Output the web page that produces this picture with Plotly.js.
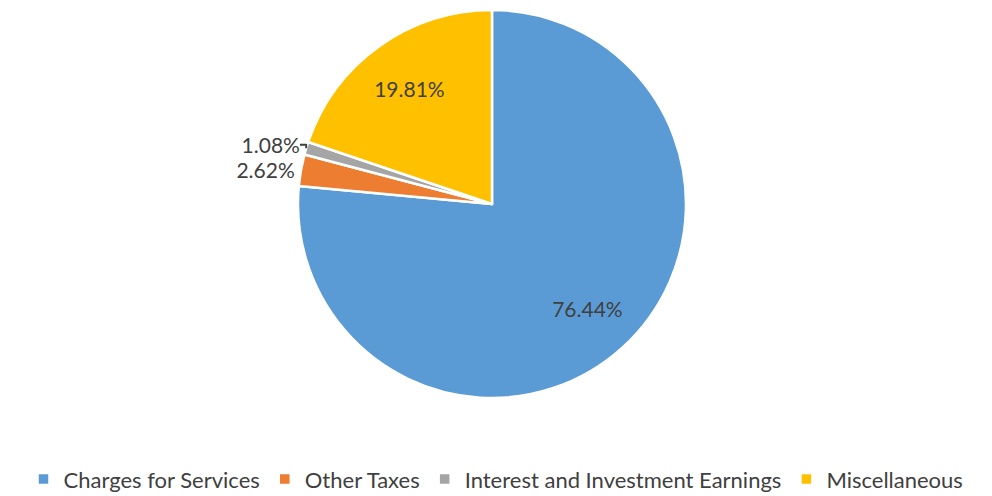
<!DOCTYPE html>
<html>
<head>
<meta charset="utf-8">
<script src="https://cdn.plot.ly/plotly-3.0.1.min.js"></script>
<style>
  html, body { margin: 0; padding: 0; background: #ffffff; }
  #chart { width: 992px; height: 496px; }
</style>
</head>
<body>
<div id="chart"></div>
<script>
// -------------------- DATA --------------------
const categories = ["Charges for Services", "Other Taxes", "Interest and Investment Earnings", "Miscellaneous"];
const shares = [76.44, 2.62, 1.08, 19.81];
const shareLabels = ["76.44%", "2.62%", "1.08%", "19.81%"];
const sliceColors = ["#5B9BD5", "#ED7D31", "#A5A5A5", "#FFC000"];

// -------------------- PLOT --------------------
const FONT = "Lato, 'Open Sans', sans-serif";
const TEXT_COLOR = "#404040";
const PIE_DOMAIN = { x: [0, 984 / 992], y: [0, 1] };

// visible slices, no text
const slices = {
    type: "pie",
    labels: categories,
    values: shares,
    textinfo: "none",
    sort: false,
    direction: "clockwise",
    rotation: 0,
    marker: { colors: sliceColors, line: { color: "#ffffff", width: 2.5 } },
    domain: PIE_DOMAIN,
    hoverinfo: "label+percent"
};

// transparent ring on top, only to carry the data labels further out
const labelRing = {
    type: "pie",
    labels: categories,
    values: shares,
    text: shareLabels,
    textinfo: "text",
    textposition: ["inside", "outside", "outside", "inside"],
    insidetextorientation: "horizontal",
    hole: 0.46,
    sort: false,
    direction: "clockwise",
    rotation: 0,
    showlegend: false,
    marker: { colors: sliceColors.map(() => "rgba(0,0,0,0)"), line: { width: 0 } },
    textfont: { family: FONT, size: 21, color: TEXT_COLOR },
    outsidetextfont: { family: FONT, size: 21, color: TEXT_COLOR },
    insidetextfont: { family: FONT, size: 21, color: TEXT_COLOR },
    domain: PIE_DOMAIN,
    hoverinfo: "skip"
};

const layout = {
    width: 992,
    height: 496,
    margin: { l: 0, r: 0, t: 10, b: 98, autoexpand: false },
    paper_bgcolor: "#ffffff",
    showlegend: true,
    legend: {
        orientation: "h",
        x: 0.5,
        xanchor: "center",
        y: -0.155,
        yanchor: "top",
        font: { family: FONT, size: 22, color: TEXT_COLOR },
        traceorder: "normal"
    }
};

Plotly.newPlot("chart", [slices, labelRing], layout, { displayModeBar: false, staticPlot: true });
</script>
</body>
</html>
